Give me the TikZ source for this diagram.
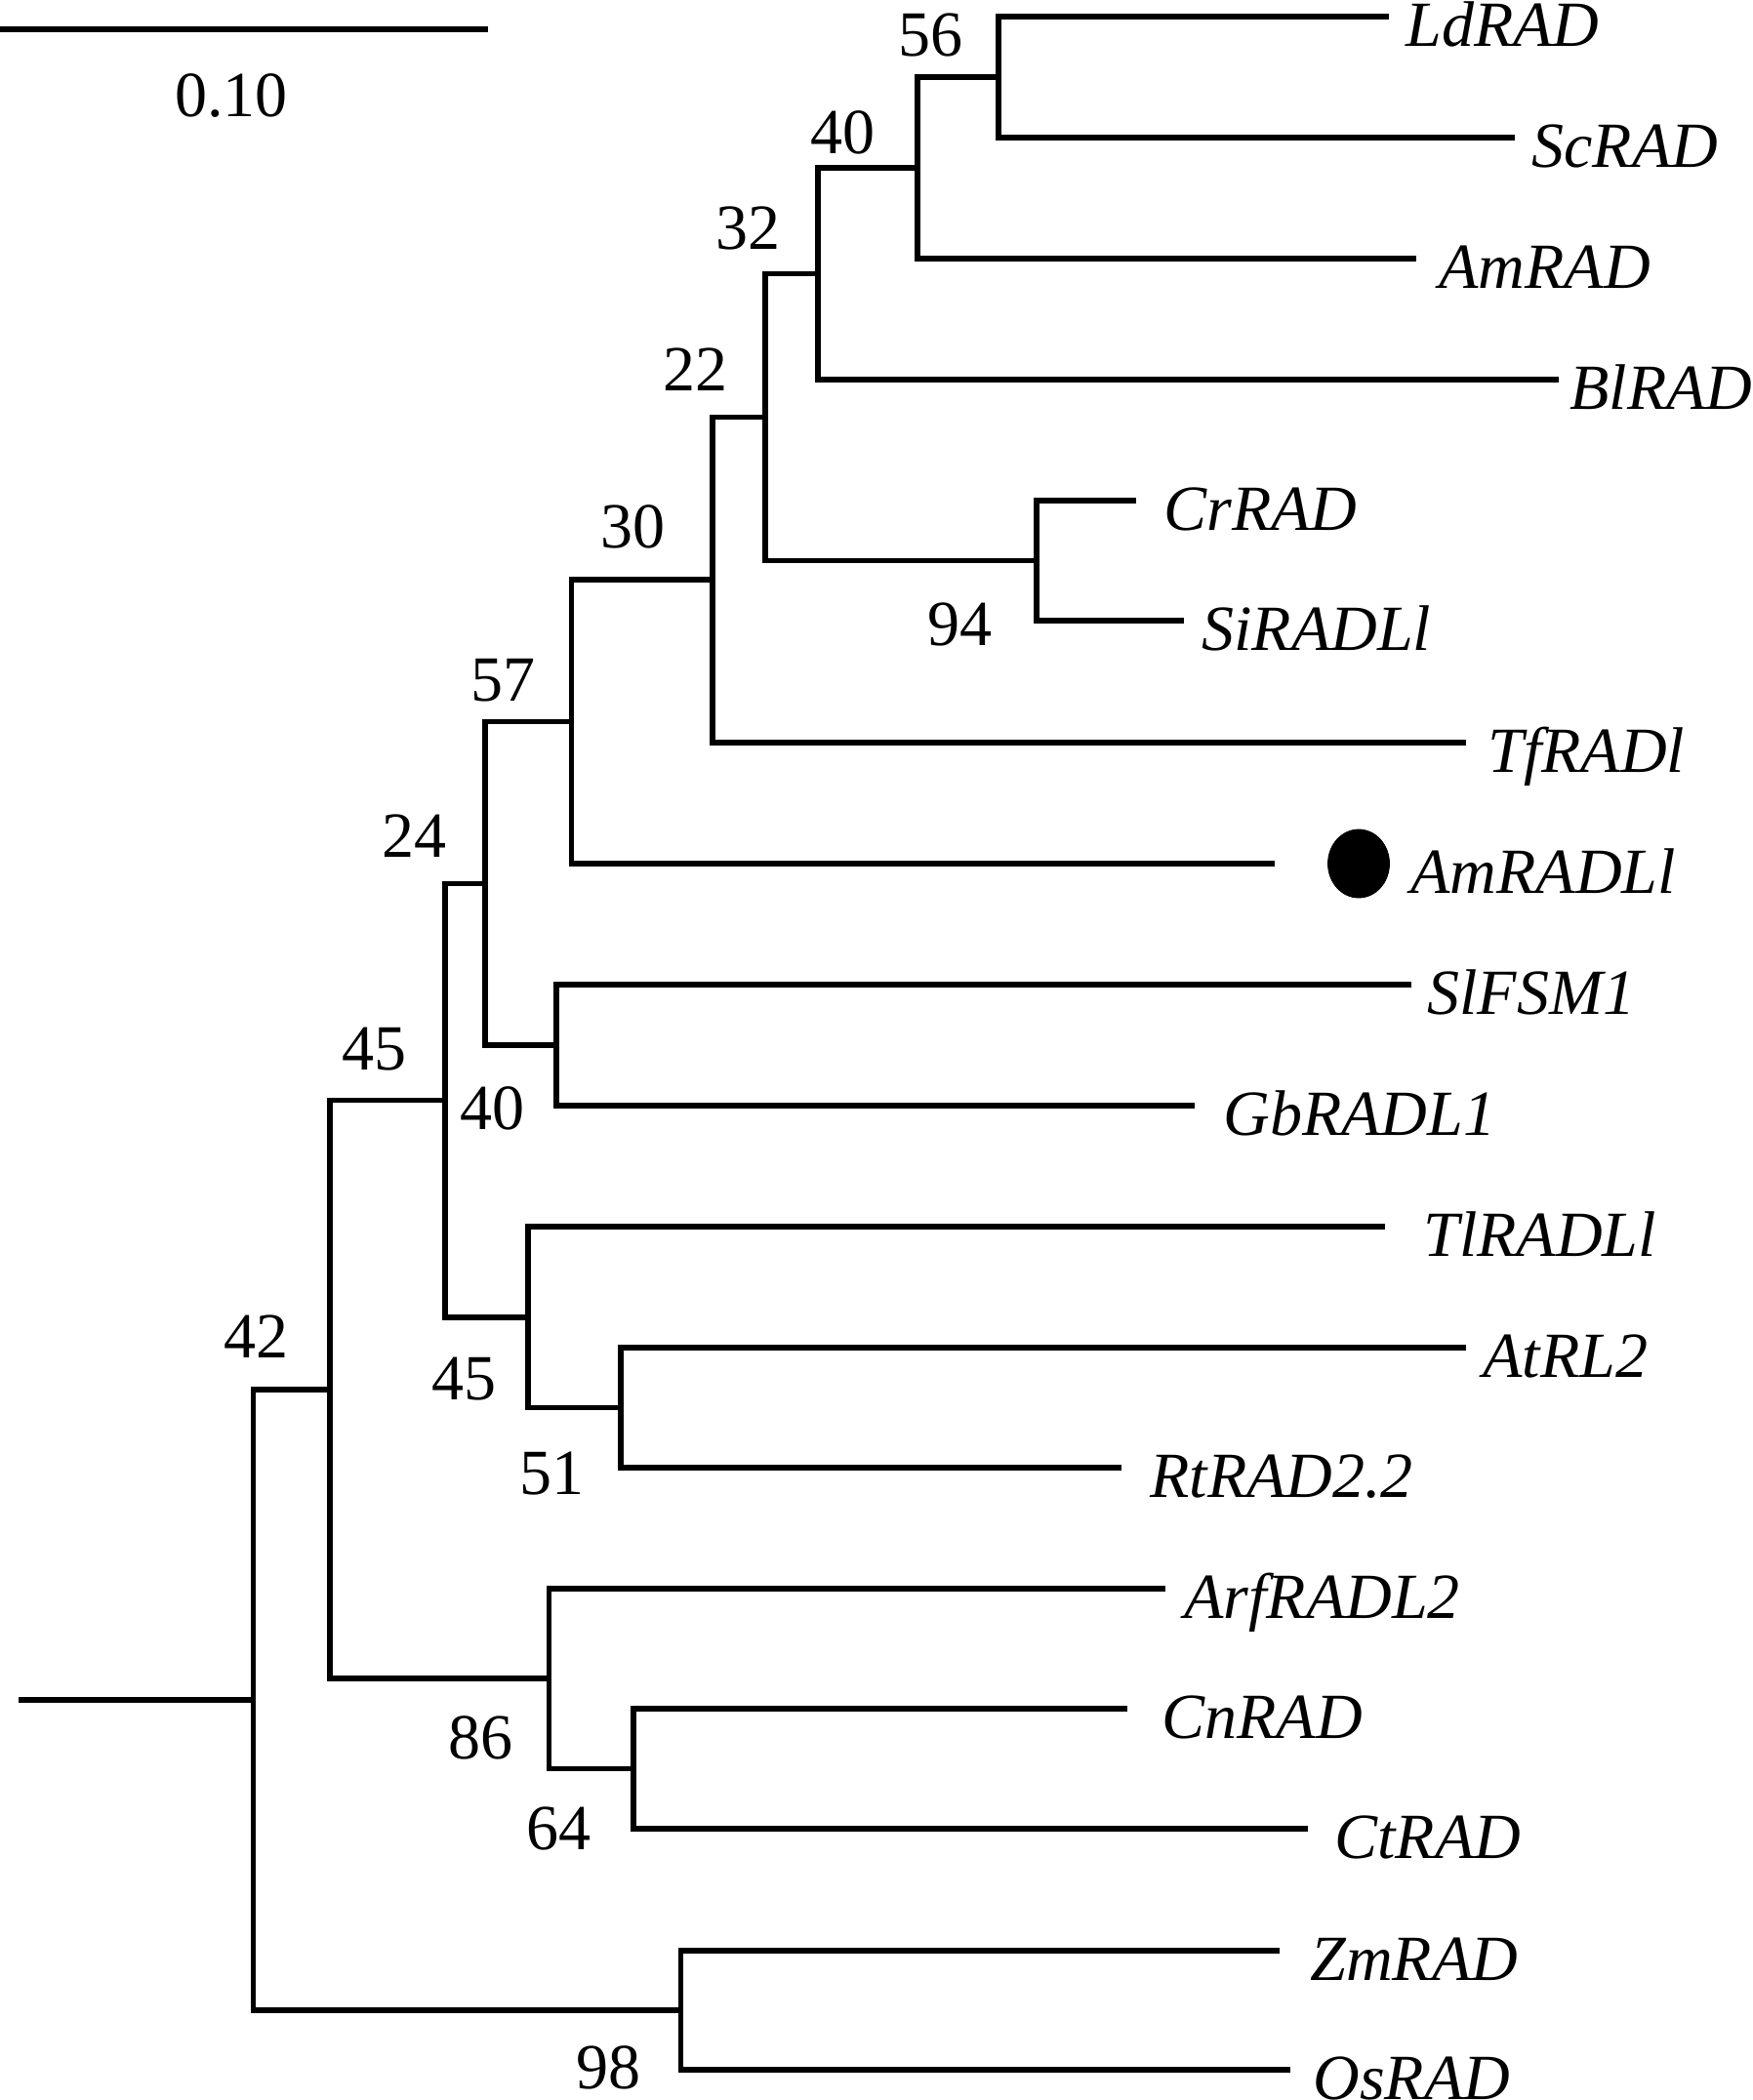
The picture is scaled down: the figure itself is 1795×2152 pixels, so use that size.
\documentclass[tikz,border=0pt]{standalone}
\usepackage{fontspec}
\setmainfont{Liberation Serif}
\tikzset{
	branch/.style={line width=2.8pt, color=black},
	taxon/.style={anchor=base west, inner sep=0pt, font=\fontsize{33}{40}\selectfont\itshape},
	boot/.style={inner sep=0pt, font=\fontsize{33}{40}\selectfont},
}
\begin{document}
\begin{tikzpicture}[x=0.5pt, y=-0.5pt]
		%%%%% START %%%%%
		\useasboundingbox (0,0) rectangle (1795,2152);
		
		% scale bar
		\coordinate (barL) at (0,30);
		\coordinate (barR) at (500,30);
		\draw[branch] (barL) -- (barR);
		\node[boot] (bar) at (237,98) {0.10};
		
		% tips
		\coordinate (LdRAD) at (1423,17);
		\coordinate (ScRAD) at (1552,141);
		\coordinate (AmRAD) at (1451,265);
		\coordinate (BlRAD) at (1597,389);
		\coordinate (CrRAD) at (1164,513);
		\coordinate (SiRADLl) at (1213,636);
		\coordinate (TfRADl) at (1502,761);
		\coordinate (AmRADLl) at (1306,885);
		\coordinate (SlFSM1) at (1446,1009);
		\coordinate (GbRADL1) at (1224,1133);
		\coordinate (TlRADLl) at (1419,1257);
		\coordinate (AtRL2) at (1502,1381);
		\coordinate (RtRAD) at (1149,1504);
		\coordinate (ArfRADL2) at (1194,1628);
		\coordinate (CnRAD) at (1155,1751);
		\coordinate (CtRAD) at (1340,1874);
		\coordinate (ZmRAD) at (1311,1999);
		\coordinate (OsRAD) at (1322,2121);
		
		% inner nodes
		\coordinate (c56) at (1023,79);
		\coordinate (c40) at (940,172);
		\coordinate (c32) at (838,280.5);
		\coordinate (c94) at (1062,574.5);
		\coordinate (c22) at (784,427.5);
		\coordinate (c30) at (730,594.25);
		\coordinate (c57) at (585.5,739.6);
		\coordinate (cSl) at (570,1071);
		\coordinate (c24) at (497,905.3);
		\coordinate (c51) at (636,1442.5);
		\coordinate (c45b) at (541,1349.75);
		\coordinate (c40b) at (456,1127.5);
		\coordinate (c64) at (648.7,1812.5);
		\coordinate (c86) at (562.6,1720);
		\coordinate (c45) at (338,1423.75);
		\coordinate (c98) at (697.5,2060);
		\coordinate (c42) at (259.5,1741.9);
		\coordinate (root) at (19,1741.9);
		
		\draw[branch] (c56) |- (LdRAD);
		\draw[branch] (c56) |- (ScRAD);
		\draw[branch] (c40) |- (c56);
		\draw[branch] (c40) |- (AmRAD);
		\draw[branch] (c32) |- (c40);
		\draw[branch] (c32) |- (BlRAD);
		\draw[branch] (c94) |- (CrRAD);
		\draw[branch] (c94) |- (SiRADLl);
		\draw[branch] (c22) |- (c32);
		\draw[branch] (c22) |- (c94);
		\draw[branch] (c30) |- (c22);
		\draw[branch] (c30) |- (TfRADl);
		\draw[branch] (c57) |- (c30);
		\draw[branch] (c57) |- (AmRADLl);
		\draw[branch] (cSl) |- (SlFSM1);
		\draw[branch] (cSl) |- (GbRADL1);
		\draw[branch] (c24) |- (c57);
		\draw[branch] (c24) |- (cSl);
		\draw[branch] (c51) |- (AtRL2);
		\draw[branch] (c51) |- (RtRAD);
		\draw[branch] (c45b) |- (TlRADLl);
		\draw[branch] (c45b) |- (c51);
		\draw[branch] (c40b) |- (c24);
		\draw[branch] (c40b) |- (c45b);
		\draw[branch] (c64) |- (CnRAD);
		\draw[branch] (c64) |- (CtRAD);
		\draw[branch] (c86) |- (ArfRADL2);
		\draw[branch] (c86) |- (c64);
		\draw[branch] (c45) |- (c40b);
		\draw[branch] (c45) |- (c86);
		\draw[branch] (c98) |- (ZmRAD);
		\draw[branch] (c98) |- (OsRAD);
		\draw[branch] (c42) |- (c45);
		\draw[branch] (c42) |- (c98);
		\draw[branch] (root) -- (c42);
		
		\draw[fill=black] (1392,885) ellipse (31.5 and 35);
		
		% taxa
		\node[taxon] (tLd) at (1440,47) {LdRAD};
		\node[taxon] (tSc) at (1569,171) {ScRAD};
		\node[taxon] (tAm) at (1474,295) {AmRAD};
		\node[taxon] (tBl) at (1608,419) {BlRAD};
		\node[taxon] (tCr) at (1192,543) {CrRAD};
		\node[taxon] (tSi) at (1231,666) {SiRADLl};
		\node[taxon] (tTf) at (1524,791) {TfRADl};
		\node[taxon] (tAmL) at (1445,915) {AmRADLl};
		\node[taxon] (tSl) at (1462,1039) {SlFSM1};
		\node[taxon] (tGb) at (1253,1163) {GbRADL1};
		\node[taxon] (tTl) at (1458,1287) {TlRADLl};
		\node[taxon] (tAt) at (1519,1411) {AtRL2};
		\node[taxon] (tRt) at (1178,1534) {RtRAD2.2};
		\node[taxon] (tArf) at (1213,1658) {ArfRADL2};
		\node[taxon] (tCn) at (1190,1781) {CnRAD};
		\node[taxon] (tCt) at (1367,1904) {CtRAD};
		\node[taxon] (tZm) at (1342,2029) {ZmRAD};
		\node[taxon] (tOs) at (1345,2151) {OsRAD};
		
		% bootstrap values
		\node[boot] (b56) at (953,36) {56};
		\node[boot] (b40) at (863,136) {40};
		\node[boot] (b32) at (766,234) {32};
		\node[boot] (b22) at (712,379) {22};
		\node[boot] (b30) at (648,540) {30};
		\node[boot] (b94) at (983,640) {94};
		\node[boot] (b57) at (515,697) {57};
		\node[boot] (b24) at (424,857) {24};
		\node[boot] (b45) at (383,1075) {45};
		\node[boot] (b40b) at (504,1136) {40};
		\node[boot] (b42) at (262,1370) {42};
		\node[boot] (b45b) at (475,1413) {45};
		\node[boot] (b51) at (565,1510) {51};
		\node[boot] (b86) at (492,1781) {86};
		\node[boot] (b64) at (572,1874) {64};
		\node[boot] (b98) at (623,2119) {98};
		
		%%%%% END %%%%%
	\end{tikzpicture}
\end{document}
